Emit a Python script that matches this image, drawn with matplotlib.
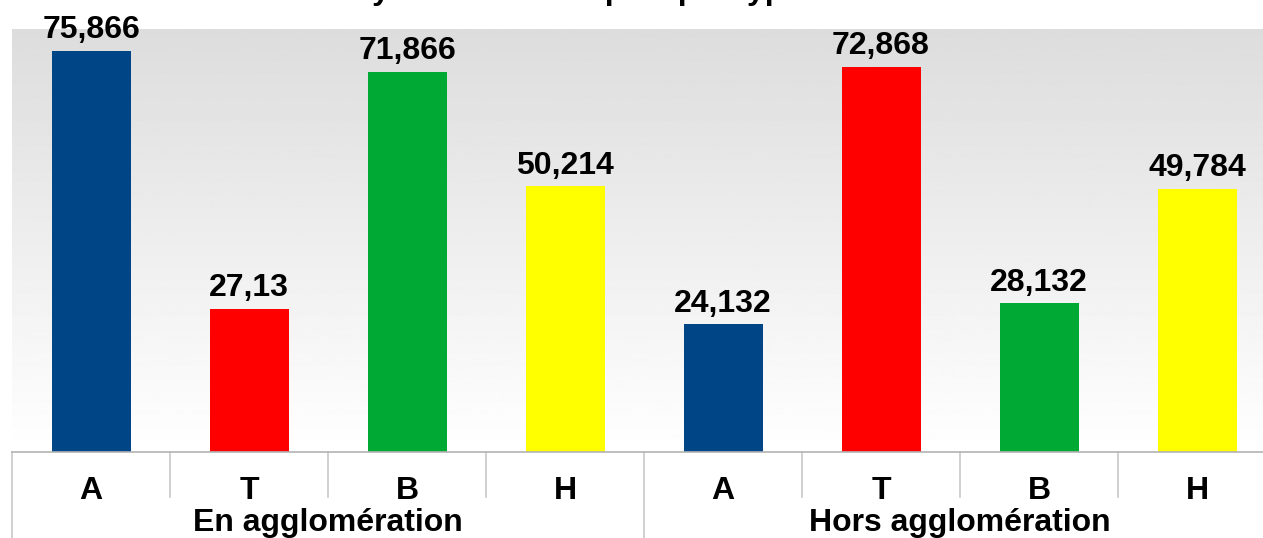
import numpy as np
import matplotlib
matplotlib.use("Agg")
import matplotlib.pyplot as plt

# données
groupes = ["En agglomération", "Hors agglomération"]
categories = ["A", "T", "B", "H"]
valeurs = [75.866, 27.13, 71.866, 50.214, 24.132, 72.868, 28.132, 49.784]
couleurs = ["#004586", "#ff0000", "#00a933", "#ffff00"]

plt.rcParams['font.family'] = ['Liberation Sans', 'DejaVu Sans']

W, H = 1263, 538
fig = plt.figure(figsize=(W / 100, H / 100), dpi=100)
# zone de tracé : un peu coupée à droite comme l'original
ax = fig.add_axes([12 / W, (H - 452) / H, 1264 / W, 423 / H])

n = len(valeurs)
x = np.arange(n)

# fond en dégradé blanc (bas) -> gris (haut)
grad = np.linspace(1.0, 0.865, 256).reshape(-1, 1)
ax.imshow(grad, cmap="gray", vmin=0, vmax=1, aspect="auto", origin="lower",
          extent=(-0.5, n - 0.5, 0, 80), zorder=0)
ax.set_xlim(-0.5, n - 0.5)
ax.set_ylim(0, 80)

cols = [couleurs[i % 4] for i in range(n)]
bars = ax.bar(x, valeurs, width=0.5, color=cols, zorder=2)

for b, v in zip(bars, valeurs):
    ax.annotate(f"{v:g}".replace(".", ","),
                (b.get_x() + b.get_width() / 2, b.get_height()),
                xytext=(0, 4), textcoords="offset points",
                ha="center", va="bottom", fontsize=23, fontweight="bold")

# axes
for s in ["top", "right", "left"]:
    ax.spines[s].set_visible(False)
ax.spines["bottom"].set_color("#b3b3b3")
ax.spines["bottom"].set_linewidth(1.2)
ax.set_yticks([])
ax.set_xticks(x)
ax.set_xticklabels(categories * 2, fontsize=23, fontweight="bold")
ax.tick_params(axis="x", length=0, pad=17)

# séparateurs de catégories
tr = ax.get_xaxis_transform()
for i in range(n + 1):
    xs = i - 0.5
    bas = -0.203 if i % 4 == 0 else -0.106
    ax.plot([xs, xs], [0, bas], transform=tr, color="#c8c8c8",
            lw=1.2, clip_on=False)

# libellés de groupes
for g, nom in enumerate(groupes):
    ax.text(g * 4 + 1.5, -0.168, nom, transform=tr, ha="center",
            va="center", fontsize=23, fontweight="bold")

# titre (coupé en haut de l'image, comme sur l'original)
fig.text(0.5, 1.0 + 1 / H, "Moyennes des risques par type de route",
         ha="center", va="baseline", fontsize=23, fontweight="bold")

fig.savefig("out.png", dpi=100)
